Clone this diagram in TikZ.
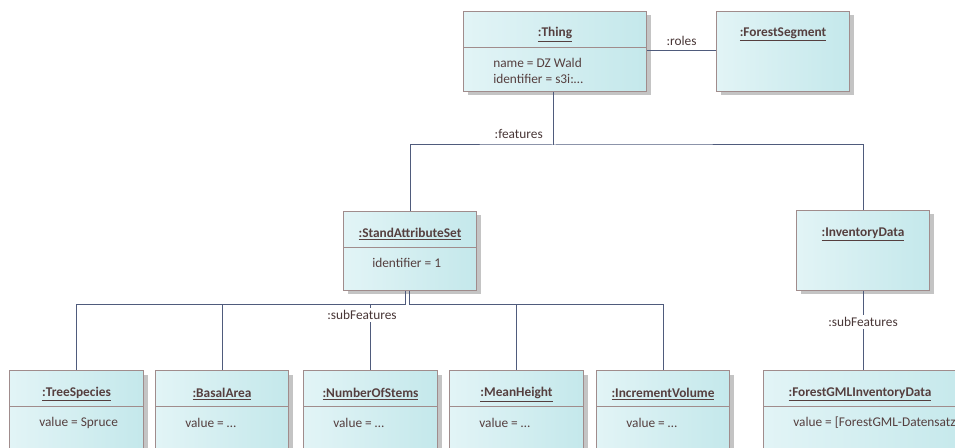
\documentclass[tikz,border=0pt]{standalone}
\usepackage{fontspec}
\setmainfont{Carlito}
\usetikzlibrary{shadows,calc}

\definecolor{boxL}{HTML}{E2F4F6}
\definecolor{boxR}{HTML}{C4E8EB}
\definecolor{boxEdge}{HTML}{A08C8C}
\definecolor{boxText}{HTML}{553F3F}
\definecolor{wire}{HTML}{4F5B7C}
\definecolor{shade}{HTML}{C4C4C4}

\tikzset{
  objbox/.style={rectangle, draw=boxEdge, line width=0.75pt,
    left color=boxL, right color=boxR, anchor=north west, inner sep=0pt,
    drop shadow={shadow xshift=3pt, shadow yshift=-3pt, fill=shade, opacity=1}},
  objtitle/.style={font=\fontsize{10}{12}\selectfont\bfseries, text=boxText, inner sep=0pt},
  objattr/.style={font=\fontsize{10}{12}\selectfont, text=boxText, anchor=west, inner sep=0pt},
  wirelabel/.style={font=\fontsize{10}{12}\selectfont, text=boxText!85!black, inner sep=1.5pt},
  wireline/.style={draw=wire, line width=0.75pt},
}

% px-based coordinates, y pointing down
\begin{document}
\begin{tikzpicture}[x=0.75pt, y=-0.75pt]
\useasboundingbox (0,0) rectangle (955,448);
\clip (0,0) rectangle (955,448);

% ---- object boxes ----
\node[objbox, minimum width=183*0.75pt, minimum height=80*0.75pt] (thing) at (463,11) {};
\node[objbox, minimum width=133*0.75pt, minimum height=80*0.75pt] (seg) at (716,11) {};
\node[objbox, minimum width=133*0.75pt, minimum height=79*0.75pt] (sas) at (343,211) {};
\node[objbox, minimum width=133*0.75pt, minimum height=80*0.75pt] (inv) at (796,210) {};
\node[objbox, minimum width=134*0.75pt, minimum height=95*0.75pt] (ts) at (9,370) {};
\node[objbox, minimum width=133*0.75pt, minimum height=95*0.75pt] (ba) at (155,370) {};
\node[objbox, minimum width=134*0.75pt, minimum height=95*0.75pt] (ns) at (303,370) {};
\node[objbox, minimum width=134*0.75pt, minimum height=95*0.75pt] (mh) at (449,370) {};
\node[objbox, minimum width=133*0.75pt, minimum height=95*0.75pt] (iv) at (596,370) {};
\node[objbox, minimum width=210*0.75pt, minimum height=95*0.75pt] (fg) at (763,370) {};

% ---- compartment dividers ----
\foreach \b in {thing,sas,ts,ba,ns,mh,iv,fg}
  \draw[draw=boxEdge, line width=0.75pt] ($(\b.north west)+(0,36.5)$) -- ($(\b.north east)+(0,36.5)$);

% ---- titles ----
\node[objtitle] (thingT) at ($(thing.north)+(0,23.5)$) {\underline{:Thing}};
\node[objtitle] (segT) at ($(seg.north)+(0,23.5)$) {\underline{:ForestSegment}};
\node[objtitle] (sasT) at ($(sas.north)+(0,23.5)$) {\underline{:StandAttributeSet}};
\node[objtitle] (invT) at ($(inv.north)+(0,24.5)$) {\underline{:InventoryData}};
\node[objtitle] (tsT) at ($(ts.north)+(0,24.5)$) {\underline{:TreeSpecies}};
\node[objtitle] (baT) at ($(ba.north)+(0,24.5)$) {\underline{:BasalArea}};
\node[objtitle] (nsT) at ($(ns.north)+(0,24.5)$) {\underline{:NumberOfStems}};
\node[objtitle] (mhT) at ($(mh.north)+(0,24.5)$) {\underline{:MeanHeight}};
\node[objtitle] (ivT) at ($(iv.north)+(0,24.5)$) {\underline{:IncrementVolume}};
\node[objtitle] (fgT) at ($(fg.north west)+(97,24.5)$) {\underline{:ForestGMLInventoryData}};

% ---- attributes ----
\node[objattr] (thingA1) at ($(thing.north west)+(30,51.5)$) {name = DZ Wald};
\node[objattr] (thingA2) at ($(thing.north west)+(30,67.5)$) {identifier = s3i:…};
\node[objattr] (sasA1) at ($(sas.north west)+(29,51.5)$) {identifier = 1};
\node[objattr] (tsA) at ($(ts.north west)+(30,52.5)$) {value = Spruce};
\node[objattr] (baA) at ($(ba.north west)+(30,52.5)$) {value = …};
\node[objattr] (nsA) at ($(ns.north west)+(30,52.5)$) {value = …};
\node[objattr] (mhA) at ($(mh.north west)+(30,52.5)$) {value = …};
\node[objattr] (ivA) at ($(iv.north west)+(30,52.5)$) {value = …};
\node[objattr] (fgA) at ($(fg.north west)+(30,52.5)$) {value = [ForestGML-Datensatz]};

% ---- connectors ----
% roles
\draw[wireline] (thing.east |- 0,51) -- (seg.west |- 0,51)
  node[midway, above=2pt, wirelabel] (rolesL) {:roles};

% features
\coordinate (featJ) at (553,145);
\draw[wireline] (thing.south -| featJ) -- (featJ);
\draw[wireline] (sas.north) |- (featJ) -| (inv.north);
\node[wirelabel, anchor=south east] (featL) at (545,141) {:features};

% subFeatures of the stand attribute set
\coordinate (subL) at (405,305);
\coordinate (subR) at (409,305);
\draw[wireline] (sas.south -| subL) -- (subL);
\draw[wireline] (sas.south -| subR) -- (subR);
\draw[wireline] (subL) -| (ts.north);
\draw[wireline] (subL) -| (ba.north);
\draw[wireline] (subL) -| (ns.north);
\draw[wireline] (subR) -| (mh.north);
\draw[wireline] (subR) -| (iv.north);
\node[wirelabel, fill=white, inner sep=2pt] (subSasL) at (362,315) {:subFeatures};

% subFeatures of the inventory data
\draw[wireline] (inv.south) -- (fg.north -| inv.south);
\node[wirelabel, fill=white, inner sep=2pt] (subInvL) at (863,322) {:subFeatures};

\end{tikzpicture}
\end{document}
